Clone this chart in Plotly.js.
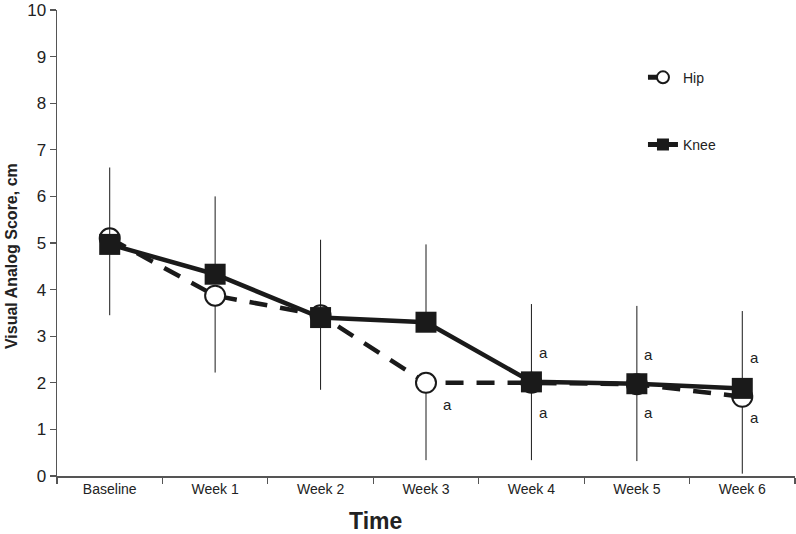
<!DOCTYPE html>
<html><head><meta charset="utf-8">
<script src="https://cdn.plot.ly/plotly-3.0.1.min.js"></script>
<style>body{margin:0;background:#fff}#c{width:796px;height:534px}</style>
</head><body><div id="c"></div>
<script>
const categories = ["Baseline","Week 1","Week 2","Week 3","Week 4","Week 5","Week 6"];
const hipMean  = [5.10, 3.87, 3.45, 2.00, 2.00, 1.97, 1.70];
const hipErrLow = [1.65, 1.65, 1.60, 1.66, 1.66, 1.65, 1.65];
const kneeMean = [4.97, 4.33, 3.40, 3.30, 2.02, 1.98, 1.88];
const kneeErrHigh = [1.65, 1.67, 1.67, 1.67, 1.67, 1.67, 1.66];
const zeros = [0,0,0,0,0,0,0];
const sigLabels = [
  {cat:"Week 3", y:1.54}, {cat:"Week 4", y:2.64}, {cat:"Week 4", y:1.36},
  {cat:"Week 5", y:2.60}, {cat:"Week 5", y:1.36}, {cat:"Week 6", y:2.54}, {cat:"Week 6", y:1.26}
];
const xTitle = "Time";
const yTitle = "Visual Analog Score, cm";
const ink = "#1a1a1a";
const hip = {
  x: categories, y: hipMean, name: "Hip", type: "scatter", mode: "lines+markers",
  legendgroup: "h",
  line: {color: ink, width: 4.5, dash: "18px,13px"},
  marker: {symbol: "circle", size: 20, color: "#fff", line: {color: ink, width: 2}},
  error_y: {type: "data", symmetric: false, array: zeros, arrayminus: hipErrLow, color: ink, thickness: 1, width: 0}
};
const knee = {
  x: categories, y: kneeMean, name: "Knee", type: "scatter", mode: "lines+markers",
  legendgroup: "k",
  line: {color: ink, width: 4.5},
  marker: {symbol: "square", size: 21, color: ink, line: {color: ink, width: 0}},
  error_y: {type: "data", symmetric: false, array: kneeErrHigh, arrayminus: zeros, color: ink, thickness: 1, width: 0}
};
const font = "Liberation Sans, Arial, sans-serif";
const ann = sigLabels.map(s => ({
  x: s.cat, y: s.y, xref: "x", yref: "y", text: "a", showarrow: false,
  xshift: s.cat === "Week 3" ? 21 : 12, font: {size: 15, family: font, color: "#222"}
}));
ann.push({x: 0.432, y: -0.0966, xref: "paper", yref: "paper", text: "<b>" + xTitle + "</b>",
  showarrow: false, xanchor: "center", yanchor: "middle", font: {size: 23, family: font, color: "#222"}});
ann.push({x: -0.0623, y: 0.472, xref: "paper", yref: "paper", text: "<b>" + yTitle + "</b>",
  showarrow: false, xanchor: "center", yanchor: "middle", textangle: -90, font: {size: 16, family: font, color: "#222"}});
const layout = {
  width: 796, height: 534,
  margin: {l: 57, r: 1, t: 10, b: 58},
  paper_bgcolor: "#fff", plot_bgcolor: "#fff",
  font: {family: font, color: "#222", size: 14},
  showlegend: true,
  legend: {x: 0.794, y: 0.889, xanchor: "left", yanchor: "top", bgcolor: "rgba(0,0,0,0)",
           traceorder: "grouped", tracegroupgap: 46, font: {size: 14, family: font}, itemsizing: "constant"},
  xaxis: {
    type: "category", range: [-0.5, 6.5], showgrid: false, zeroline: false,
    showline: true, linecolor: "#555", linewidth: 1.5,
    ticks: "outside", tickson: "boundaries", ticklen: 6, tickcolor: "#555", tickwidth: 1.2,
    tickfont: {size: 14, family: font, color: "#222"}
  },
  yaxis: {
    range: [0, 10], dtick: 1, showgrid: false, zeroline: false,
    showline: true, linecolor: "#555", linewidth: 1.5, ticklabeloverflow: "allow",
    ticks: "outside", ticklen: 6, tickcolor: "#555", tickwidth: 1.2,
    tickfont: {size: 17, family: font, color: "#222"}
  },
  annotations: ann
};
Plotly.newPlot("c", [hip, knee], layout, {displayModeBar: false, staticPlot: true});
</script></body></html>
